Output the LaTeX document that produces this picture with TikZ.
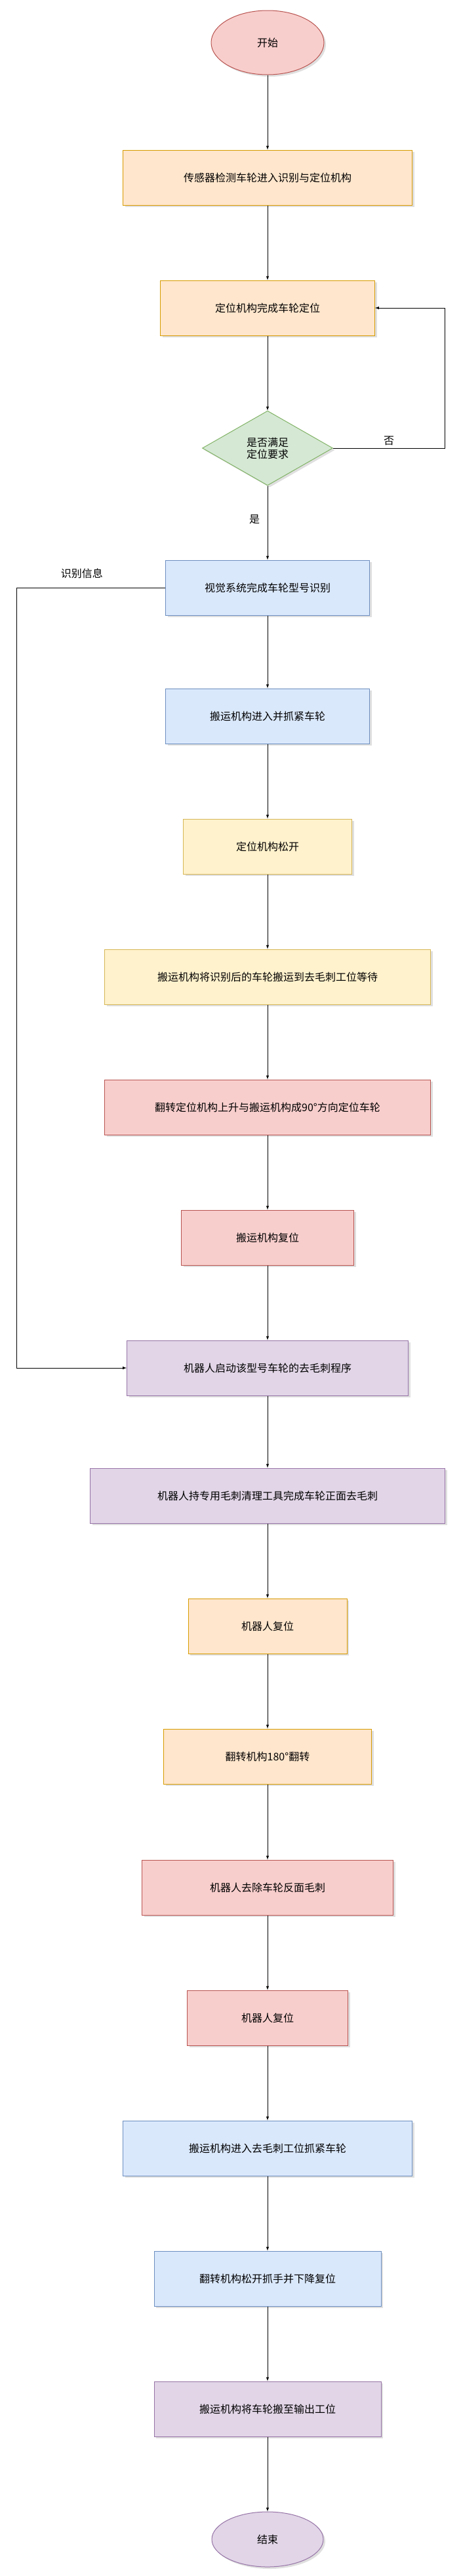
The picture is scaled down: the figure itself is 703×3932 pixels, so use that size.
\documentclass[tikz,border=0pt]{standalone}
\usepackage{fontspec}
\setmainfont{Noto Sans CJK SC}
\usetikzlibrary{shapes.geometric,shadows}
\definecolor{arFill}{HTML}{FFE6CC}\definecolor{arLine}{HTML}{D79B00}
\definecolor{giFill}{HTML}{FFF2CC}\definecolor{giLine}{HTML}{D6B656}
\definecolor{veFill}{HTML}{D5E8D4}\definecolor{veLine}{HTML}{82B366}
\definecolor{bluFill}{HTML}{DAE8FC}\definecolor{bluLine}{HTML}{6C8EBF}
\definecolor{roFill}{HTML}{F8CECC}\definecolor{roLine}{HTML}{B85450}
\definecolor{viFill}{HTML}{E1D5E7}\definecolor{viLine}{HTML}{9673A6}
\tikzset{
  passo/.style={rectangle, draw=#1Line, fill=#1Fill, line width=1pt, inner sep=0pt,
    minimum height=84pt, font=\fontsize{16}{18}\selectfont,
    drop shadow={shadow xshift=3pt, shadow yshift=-3pt, opacity=0.25}},
  freccia/.style={-latex, line width=1pt}
}
\begin{document}
\begin{tikzpicture}[x=1pt, y=-1pt]
    \useasboundingbox (0,0) rectangle (703,3932);
    % Inizio
    \node[ellipse, draw=roLine, fill=roFill, line width=1pt, minimum width=172pt, minimum height=98pt,
        inner sep=0pt, font=\fontsize{16}{18}\selectfont,
        drop shadow={shadow xshift=3pt, shadow yshift=-3pt, opacity=0.25}] (inizio) at (408,65) {开始};
    % Passi
    \node[passo=ar, minimum width=441pt] (p1) at (408,271) {传感器检测车轮进入识别与定位机构};
    \node[passo=ar, minimum width=327pt] (p2) at (408,470) {定位机构完成车轮定位};
    \node[diamond, draw=veLine, fill=veFill, line width=1pt, minimum width=199pt, minimum height=114pt,
        inner sep=0pt, align=center, font=\fontsize{16}{18}\selectfont,
        drop shadow={shadow xshift=3pt, shadow yshift=-3pt, opacity=0.25}] (dec) at (408,684) {是否满足\\定位要求};
    \node[passo=blu, minimum width=311pt] (p3) at (408,897) {视觉系统完成车轮型号识别};
    \node[passo=blu, minimum width=311pt] (p4) at (408,1093) {搬运机构进入并抓紧车轮};
    \node[passo=gi, minimum width=257pt] (p5) at (408,1292) {定位机构松开};
    \node[passo=gi, minimum width=497pt] (p6) at (408,1491) {搬运机构将识别后的车轮搬运到去毛刺工位等待};
    \node[passo=ro, minimum width=497pt] (p7) at (408,1690) {翻转定位机构上升与搬运机构成90°方向定位车轮};
    \node[passo=ro, minimum width=263pt] (p8) at (408,1889) {搬运机构复位};
    \node[passo=vi, minimum width=429pt] (p9) at (408,2088) {机器人启动该型号车轮的去毛刺程序};
    \node[passo=vi, minimum width=541pt] (p10) at (408,2283) {机器人持专用毛刺清理工具完成车轮正面去毛刺};
    \node[passo=ar, minimum width=242pt] (p11) at (408,2482) {机器人复位};
    \node[passo=ar, minimum width=317pt] (p12) at (408,2681) {翻转机构180°翻转};
    \node[passo=ro, minimum width=383pt] (p13) at (408,2881) {机器人去除车轮反面毛刺};
    \node[passo=ro, minimum width=245pt] (p14) at (408,3080) {机器人复位};
    \node[passo=blu, minimum width=441pt] (p15) at (408,3279) {搬运机构进入去毛刺工位抓紧车轮};
    \node[passo=blu, minimum width=346pt] (p16) at (408,3478) {翻转机构松开抓手并下降复位};
    \node[passo=vi, minimum width=346pt] (p17) at (408,3677) {搬运机构将车轮搬至输出工位};
    % Fine
    \node[ellipse, draw=viLine, fill=viFill, line width=1pt, minimum width=170pt, minimum height=84pt,
        inner sep=0pt, font=\fontsize{16}{18}\selectfont,
        drop shadow={shadow xshift=3pt, shadow yshift=-3pt, opacity=0.25}] (fine) at (408,3876) {结束};
    % Collegamenti
    \draw[freccia] (inizio) -- (p1);
    \draw[freccia] (p1) -- (p2);
    \draw[freccia] (p2) -- (dec);
    \draw[freccia] (dec) -- node[left, pos=0.45, xshift=-8pt, font=\fontsize{16}{18}\selectfont] {是} (p3);
    \foreach \a/\b in {p3/p4,p4/p5,p5/p6,p6/p7,p7/p8,p8/p9,p9/p10,p10/p11,p11/p12,p12/p13,
        p13/p14,p14/p15,p15/p16,p16/p17,p17/fine}
        \draw[freccia] (\a) -- (\b);
    % Ritorno e informazione
    \coordinate (dx) at (678,684);
    \coordinate (sx) at (25,897);
    \draw[freccia] (dec.east) -- node[above, pos=0.5, font=\fontsize{16}{18}\selectfont] {否} (dx) |- (p2.east);
    \draw[freccia] (p3.west) -- node[above, pos=0.56, yshift=10pt, font=\fontsize{16}{18}\selectfont] {识别信息} (sx) |- (p9.west);
\end{tikzpicture}
\end{document}
